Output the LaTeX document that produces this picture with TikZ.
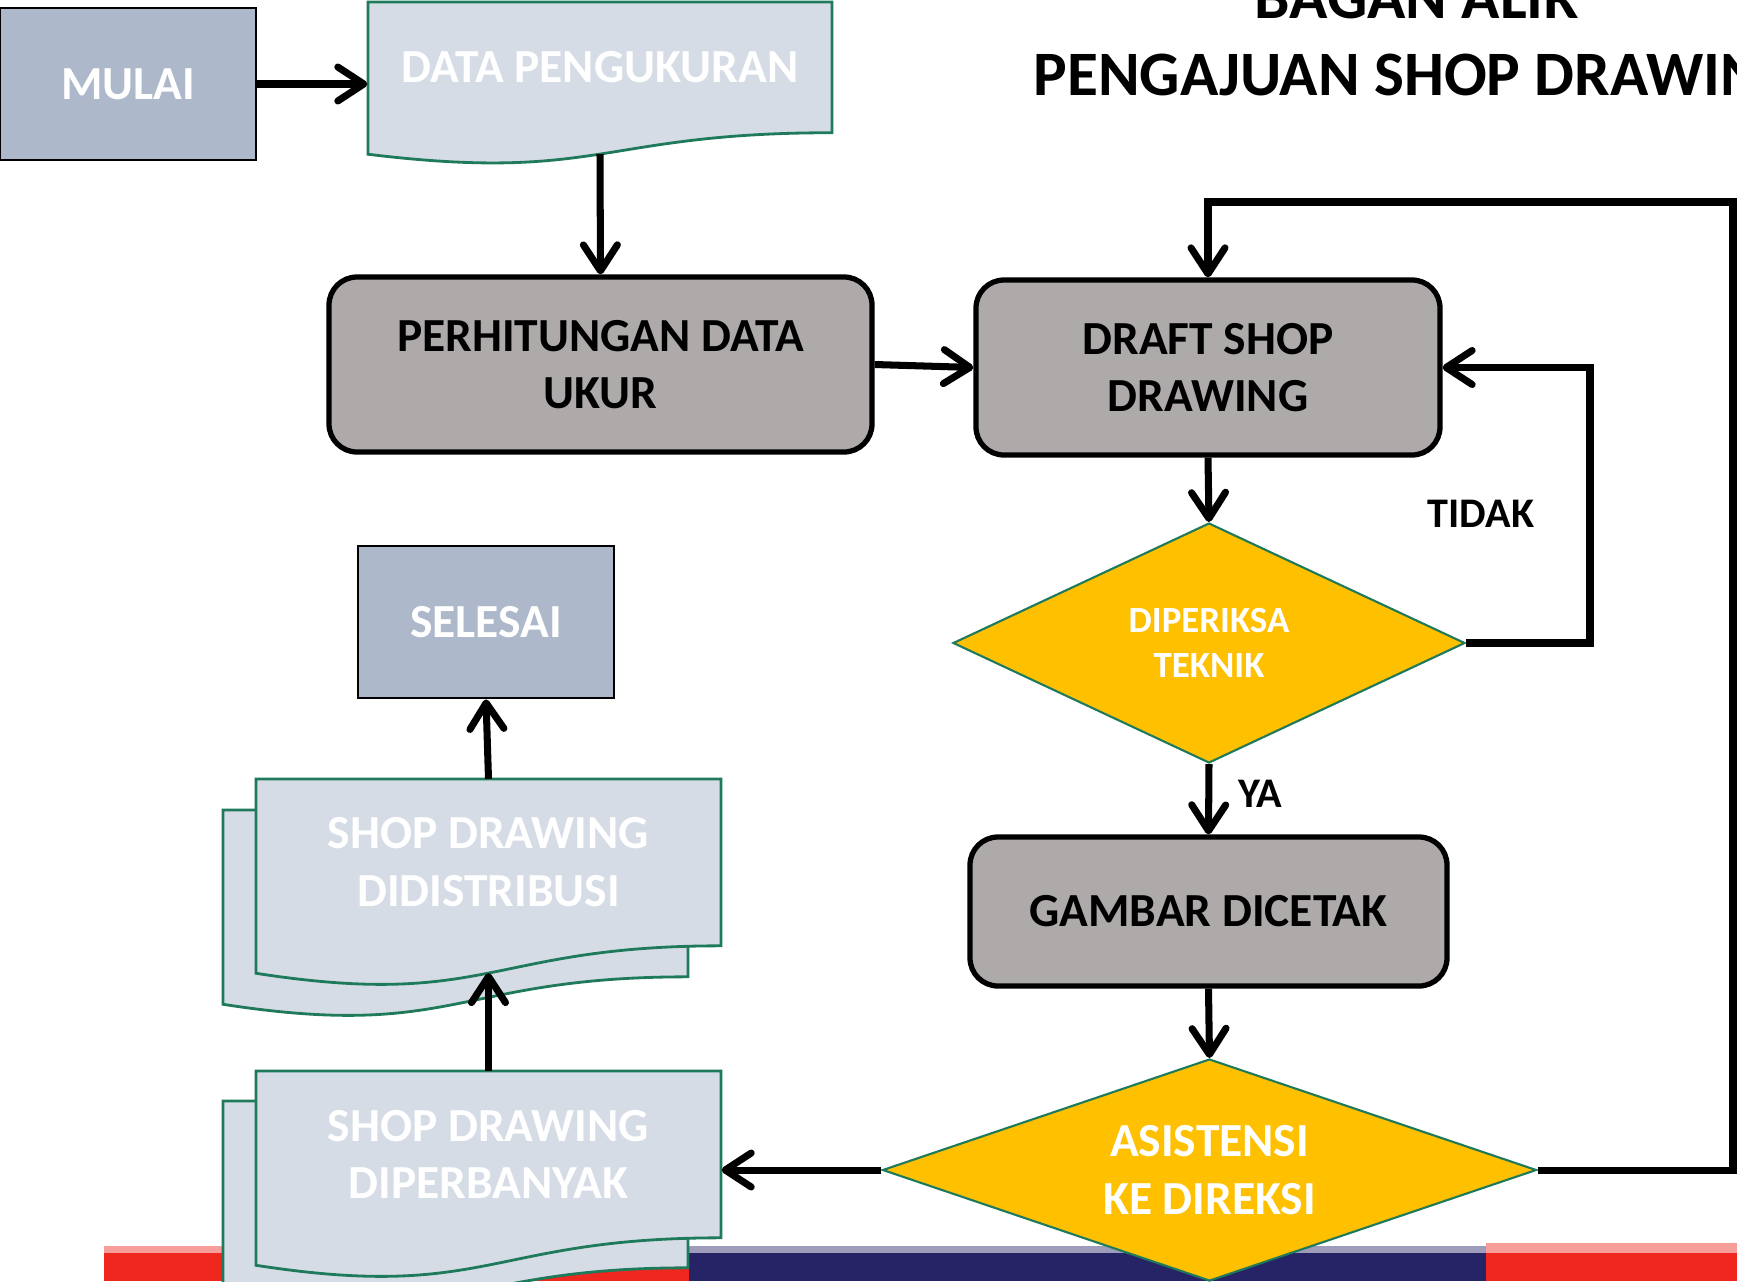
\documentclass[tikz,border=0pt]{standalone}
\usepackage{fontspec}
\setmainfont{Carlito}
\usetikzlibrary{arrows.meta, positioning, shapes.geometric, calc}
\definecolor{cterm}{HTML}{ADB9CA}
\definecolor{cdoc}{HTML}{D6DCE5}
\definecolor{cgreen}{HTML}{1F7A5C}
\definecolor{cproc}{HTML}{AEAAAA}
\definecolor{cgold}{HTML}{FFC000}
\definecolor{cred}{HTML}{F0271F}
\definecolor{cnavy}{HTML}{262366}
\tikzset{
  every picture/.style={font=\bfseries},
  term/.style={draw=black, line width=0.8pt, fill=cterm, text=white, inner sep=0pt,
    minimum width=2.56cm, minimum height=1.52cm, font=\bfseries\fontsize{13.5}{16}\selectfont},
  proc/.style={draw=black, line width=1.5pt, fill=cproc, rounded corners=0.28cm, align=center,
    inner sep=0pt, font=\bfseries\fontsize{13.5}{16.4}\selectfont},
  decide/.style={diamond, draw=cgreen, line width=0.6pt, fill=cgold, text=white, align=center,
    inner sep=0pt},
  docline/.style={draw=cgreen, line width=0.8pt, fill=cdoc},
  doctext/.style={text=white, align=center, inner sep=0pt, minimum height=1.3cm,
    font=\bfseries\fontsize{13.5}{16.4}\selectfont},
  arrow/.style={-{Straight Barb[length=2.6mm, width=3.4mm, round]}, line width=2pt},
  lbl/.style={font=\bfseries\fontsize{12}{14}\selectfont},
  heading/.style={inner sep=0pt, font=\bfseries\fontsize{18}{21}\selectfont},
}
% document sheet: name, left, top, right, height
\newcommand{\docshape}[5]{%
  \draw[docline] (#2,#3) -- (#4,#3) -- (#4,{#3-0.802*#5})
    .. controls ({(#2+#4)/2},{#3-0.802*#5}) and ({(#2+#4)/2},{#3-1.1075*#5}) .. (#2,{#3-0.934*#5}) -- cycle;
  \coordinate (#1-s) at ({(#2+#4)/2},{#3-0.933*#5});
}

\begin{document}
\begin{tikzpicture}
  \useasboundingbox (0,0) rectangle (17.37,-12.81);
  \clip (0,0) rectangle (17.37,-12.81);
  % slide band at the bottom
  \fill[cred!45] (1.04,-12.46) rectangle (6.89,-12.53);
  \fill[cnavy!45] (6.89,-12.46) rectangle (14.86,-12.53);
  \fill[cred!45] (14.86,-12.43) rectangle (17.37,-12.53);
  \fill[cred] (1.04,-12.53) rectangle (6.89,-12.81);
  \fill[cnavy] (6.89,-12.53) rectangle (14.86,-12.81);
  \fill[cred] (14.86,-12.53) rectangle (17.37,-12.81);
  % title
  \node[heading, anchor=base] (title1) at (14.17,-0.18) {BAGAN ALIR};
  \node[heading, anchor=base west] (title2) at (10.33,-0.95) {PENGAJUAN SHOP DRAWING};
  % left column
  \node[term] (mulai) at (1.28,-0.84) {MULAI};
  \docshape{data}{3.68}{-0.02}{8.32}{1.63}
  \node[doctext, minimum width=4.64cm] (data) at (6.00,-0.674) {DATA PENGUKURAN};
  \node[proc, minimum width=5.43cm, minimum height=1.75cm] (hitung) at (6.005,-3.645) {PERHITUNGAN DATA\\UKUR};
  \node[term] (selesai) at (4.86,-6.22) {SELESAI};
  \docshape{distb}{2.23}{-8.10}{6.88}{2.08}
  \docshape{dist}{2.56}{-7.79}{7.21}{2.08}
  \node[doctext, minimum width=4.65cm] (dist) at (4.885,-8.624) {SHOP DRAWING\\DIDISTRIBUSI};
  \docshape{banyakb}{2.23}{-11.01}{6.88}{2.08}
  \docshape{banyak}{2.56}{-10.71}{7.21}{2.08}
  \node[doctext, minimum width=4.65cm] (banyak) at (4.885,-11.544) {SHOP DRAWING\\DIPERBANYAK};
  % right column
  \node[proc, minimum width=4.64cm, minimum height=1.75cm] (draft) at (12.08,-3.675) {DRAFT SHOP\\DRAWING};
  \node[decide, aspect=2.13, minimum width=5.12cm, minimum height=2.40cm, font=\bfseries\fontsize{10.5}{12.6}\selectfont] (periksa) at (12.09,-6.43) {DIPERIKSA\\TEKNIK};
  \node[proc, minimum width=4.77cm, minimum height=1.49cm] (cetak) at (12.085,-9.115) {GAMBAR DICETAK};
  \node[decide, aspect=2.95, minimum width=6.54cm, minimum height=2.22cm, font=\bfseries\fontsize{13.5}{16.4}\selectfont] (asis) at (12.095,-11.70) {ASISTENSI\\KE DIREKSI};
  % connectors
  \draw[arrow] (mulai.east) -- (mulai.east -| data.west);
  \draw[arrow] (data-s) -- (hitung.north);
  \draw[arrow] (hitung.east) -- (draft.west);
  \draw[arrow] (draft.south) -- (periksa.north);
  \draw[arrow] (periksa.east) -- (15.90,-6.43) -- (15.90,-3.675) -- (draft.east);
  \node[lbl] (tidak) at (14.81,-5.14) {TIDAK};
  \draw[arrow] (periksa.south) -- (cetak.north);
  \node[lbl] (ya) at (12.60,-7.94) {YA};
  \draw[arrow] (cetak.south) -- (asis.north);
  \draw[arrow] (asis.east) -- (17.33,-11.70) -- (17.33,-2.02) -- (12.08,-2.02) -- (draft.north);
  \draw[arrow] (asis.west) -- (asis.west -| banyak.east);
  \draw[arrow] (4.885,-10.71) -- (dist-s);
  \draw[arrow] (4.885,-7.79) -- (selesai.south);
\end{tikzpicture}
\end{document}
